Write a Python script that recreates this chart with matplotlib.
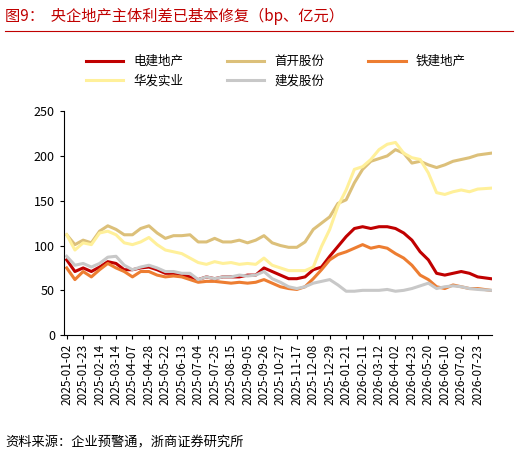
import matplotlib
matplotlib.use("Agg")
import matplotlib.pyplot as plt
import numpy as np

plt.rcParams['font.family'] = ['Noto Sans CJK SC', 'DejaVu Sans']

tick_labels = ["2025-01-02","2025-01-23","2025-02-14","2025-03-14","2025-04-07","2025-04-28",
"2025-05-22","2025-06-13","2025-07-04","2025-07-25","2025-08-15","2025-09-05","2025-09-26",
"2025-10-27","2025-11-17","2025-12-08","2025-12-29","2026-01-21","2026-02-11","2026-03-12",
"2026-04-02","2026-04-23","2026-05-20","2026-06-10","2026-07-02","2026-07-23"]

x_idx = [h * 7.5 for h in range(51)] + [387]

dianjian = [84,71,75,71,76,82,80,73,73,75,76,73,69,69,67,65,62,65,63,65,65,65,67,67,75,71,67,63,63,65,
            73,76,88,99,110,119,121,119,121,121,119,114,106,93,84,69,67,69,71,69,65,63]
shougang = [112,101,106,103,116,122,118,112,112,119,122,114,108,111,111,112,104,104,108,104,104,106,103,106,111,103,100,98,98,104,
            118,125,132,147,151,170,185,194,197,200,207,203,192,194,190,187,190,194,196,198,201,203]
tiejian = [75,62,71,65,73,80,75,71,65,71,71,67,65,66,65,62,59,60,60,59,58,59,58,59,62,58,54,52,51,54,
           63,73,84,90,93,97,101,97,99,97,91,86,78,67,62,54,52,56,54,52,52,50]
huafa = [112,95,103,101,114,116,112,103,101,104,109,101,95,93,91,86,81,79,82,80,81,79,80,79,86,78,75,72,72,72,
         76,99,118,144,162,185,188,196,207,213,215,203,198,196,181,159,157,160,162,160,163,164]
jianfa = [88,78,80,76,80,87,88,78,73,76,78,75,71,71,69,69,62,65,63,65,65,67,66,67,71,63,59,54,52,54,
          58,60,62,56,49,49,50,50,50,51,49,50,52,55,58,52,54,55,54,52,51,50]

series = [("电建地产", dianjian, "#C00000"), ("首开股份", shougang, "#DCC07A"),
          ("铁建地产", tiejian, "#ED7D31"), ("华发实业", huafa, "#FFF09A"),
          ("建发股份", jianfa, "#C8C8C8")]

fig = plt.figure(figsize=(5.2, 4.61), dpi=100)
ax = fig.add_axes([0.123, 0.273, 0.823, 0.486])
handles = []
for name, vals, c in series:
    h, = ax.plot(x_idx, vals, color=c, lw=2.2, label=name)
    handles.append(h)

ax.set_ylim(0, 250)
ax.set_yticks(range(0, 251, 50))
ax.set_xlim(-2.5, 388)
ax.set_xticks([15 * i for i in range(len(tick_labels))])
ax.set_xticklabels(tick_labels, rotation=90, fontsize=8.5)
ax.tick_params(axis='y', labelsize=9, length=3)
ax.tick_params(axis='x', length=3)
for s in ['top', 'right']:
    ax.spines[s].set_visible(False)

order = [handles[0], handles[3], handles[1], handles[4], handles[2]]
fig.legend(handles=order, loc='upper center', bbox_to_anchor=(0.53, 0.905), ncol=3,
           frameon=False, fontsize=9, handlelength=3, columnspacing=3.5)

fig.text(0.01, 0.965, "图9：  央企地产主体利差已基本修复（bp、亿元）", color="#C00000",
         fontsize=11, va='center')
fig.add_artist(plt.Line2D([0.01, 0.987], [0.932, 0.932], color="#C00000", lw=0.8))
fig.text(0.01, 0.04, "资料来源：企业预警通，浙商证券研究所", fontsize=9.5, va='center')

fig.savefig("out.png", dpi=100)
